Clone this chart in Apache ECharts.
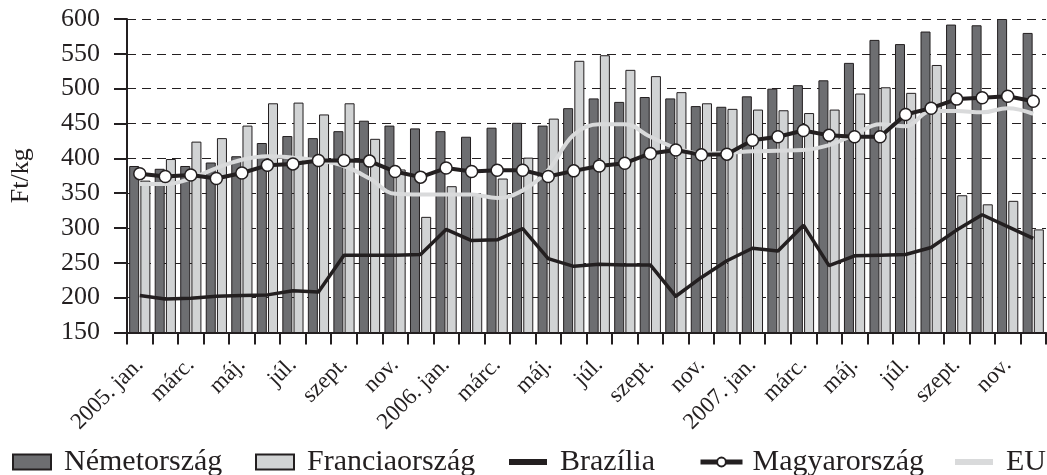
<!DOCTYPE html>
<html><head><meta charset="utf-8">
<script src="https://cdn.jsdelivr.net/npm/echarts@6/dist/echarts.min.js"></script>
<style>html,body{margin:0;padding:0;background:#fff}#c{width:1047px;height:475px}</style>
</head><body><div id="c"></div>
<script>
const categories = [
  '2005. jan.','febr.','márc.','ápr.','máj.','jún.','júl.','aug.','szept.','okt.','nov.','dec.',
  '2006. jan.','febr.','márc.','ápr.','máj.','jún.','júl.','aug.','szept.','okt.','nov.','dec.',
  '2007. jan.','febr.','márc.','ápr.','máj.','jún.','júl.','aug.','szept.','okt.','nov.','dec.'
];
const nemetorszag = [389,385,389,394,403,422,432,429,439,454,447,443,
  439,431,444,451,447,472,486,481,488,486,475,474,
  489,500,505,512,537,570,564,582,592,591,600,580];
const franciaorszag = [368,399,424,429,447,479,480,463,479,428,384,316,
  360,347,371,401,457,540,548,527,518,495,479,471,
  470,469,465,470,493,502,494,534,347,334,339,298];
const brazilia = [203,198,199,202,203,204,210,208,261,261,261,262,
  298,282,283,299,256,245,248,247,247,202,229,253,
  271,267,304,246,260,261,262,272,297,319,302,285];
const magyarorszag = [378,374,376,371,379,390,392,397,397,396,381,373,
  386,381,383,383,374,382,389,393,407,412,405,406,
  426,431,440,433,431,431,463,472,485,487,489,482];
const eu = [363,363,371,386,398,403,401,397,389,371,349,348,
  348,348,343,354,383,434,449,449,431,415,407,408,
  410,411,412,419,434,449,446,468,468,466,472,464];
const yMin = 150, yMax = 600, yStep = 50;

const ink = '#231f20';
const font = 'Liberation Serif';
const chart = echarts.init(document.getElementById('c'));
const legendLefts = [7, 250, 504, 693, 950];
const names = ['Németország','Franciaország','Brazília','Magyarország','EU'];
const legendIcon = ['rect', 'rect', 'rect', undefined, 'rect'];
const legendH = [15, 15, 6, 11, 6];
chart.setOption({
  animation: false,
  textStyle: {fontFamily: font, color: ink},
  grid: {left: 127, right: 1, top: 19, bottom: 142.5, containLabel: false, outerBoundsMode: 'none'},
  legend: names.map((n, i) => ({
    data: [n], left: legendLefts[i], top: 442, itemWidth: i === 3 ? 42 : 38, itemHeight: legendH[i], itemGap: 0,
    icon: legendIcon[i],
    lineStyle: i === 3 ? {width: 5, color: ink} : undefined,
    textStyle: {fontFamily: font, fontSize: 30, color: ink, padding: [0,0,0,i === 3 ? 5 : 8]}
  })),
  xAxis: {
    type: 'category', data: categories, boundaryGap: true,
    axisLine: {lineStyle: {color: ink, width: 2}},
    axisTick: {show: true, interval: 0, length: 12, lineStyle: {color: ink, width: 2}},
    axisLabel: {interval: 1, rotate: 45, margin: 29, fontFamily: font, fontSize: 23, color: ink},
    splitLine: {show: false}
  },
  yAxis: {
    type: 'value', min: yMin, max: yMax, interval: yStep,
    name: 'Ft/kg', nameLocation: 'middle', nameGap: 93, nameRotate: 90,
    nameTextStyle: {fontFamily: font, fontSize: 26, color: ink},
    axisLine: {show: true, lineStyle: {color: ink, width: 2}},
    axisTick: {show: true, length: 13, lineStyle: {color: ink, width: 2}},
    axisLabel: {margin: 27, fontFamily: font, fontSize: 26, color: ink},
    splitLine: {show: true, lineStyle: {color: ink, width: 1.2, type: [9, 6]}}
  },
  series: [
    {name: 'Németország', type: 'bar', data: nemetorszag, barWidth: 10, barGap: '12%',
      itemStyle: {color: '#6d6e71', borderColor: ink, borderWidth: 1}},
    {name: 'Franciaország', type: 'bar', data: franciaorszag, barWidth: 10, barGap: '12%',
      itemStyle: {color: '#d1d3d4', borderColor: ink, borderWidth: 1}},
    {name: 'Brazília', type: 'line', data: brazilia, symbol: 'none', z: 3,
      lineStyle: {color: ink, width: 3.5}, itemStyle: {color: ink}},
    {name: 'EU', type: 'line', data: eu, symbol: 'none', smooth: 0.4, z: 4,
      lineStyle: {color: '#d9dadb', width: 4}, itemStyle: {color: '#d9dadb'}},
    {name: 'Magyarország', type: 'line', data: magyarorszag, symbol: 'circle', symbolSize: 12, z: 5,
      lineStyle: {color: ink, width: 4},
      itemStyle: {color: '#ffffff', borderColor: ink, borderWidth: 1.5}}
  ]
});
</script></body></html>
